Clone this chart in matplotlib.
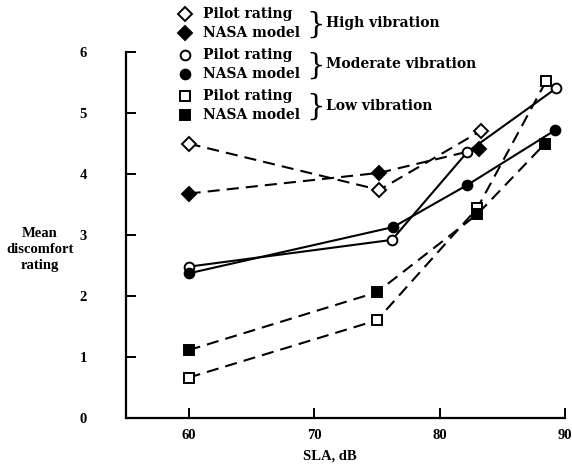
import matplotlib
matplotlib.use("Agg")
import matplotlib.pyplot as plt

plt.rcParams['font.family'] = ['Liberation Serif', 'DejaVu Serif']
plt.rcParams['font.weight'] = 'bold'

# Data
high_pilot_x = [60, 75.2, 83.3]
high_pilot_y = [4.50, 3.74, 4.71]
high_nasa_x = [60, 75.2, 83.1]
high_nasa_y = [3.68, 4.02, 4.41]

mod_pilot_x = [60, 76.2, 82.2, 89.3]
mod_pilot_y = [2.48, 2.92, 4.36, 5.41]
mod_nasa_x = [60, 76.3, 82.2, 89.2]
mod_nasa_y = [2.37, 3.13, 3.82, 4.72]

low_pilot_x = [60, 75.0, 83.0, 88.5]
low_pilot_y = [0.66, 1.60, 3.44, 5.53]
low_nasa_x = [60, 75.0, 83.0, 88.4]
low_nasa_y = [1.11, 2.06, 3.34, 4.50]

x_ticks = [60, 70, 80, 90]
y_ticks = [0, 1, 2, 3, 4, 5, 6]

legend_rows = [("D", "none", "Pilot rating"), ("D", "k", "NASA model"),
               ("o", "none", "Pilot rating"), ("o", "k", "NASA model"),
               ("s", "none", "Pilot rating"), ("s", "k", "NASA model")]
group_labels = ["High vibration", "Moderate vibration", "Low vibration"]

fig = plt.figure(figsize=(5.72, 4.70), dpi=100)
ax = fig.add_axes([0.220, 0.111, 0.768, 0.778])

dash = (0, (5.8, 3.4))
ms = 7
def msize(m):
    return ms + 0.5 if m == 'D' else ms

def series(x, y, m, fill, ls):
    ax.plot(x, y, color='k', lw=1.5, linestyle=ls, marker=m,
            markersize=msize(m), markerfacecolor=('white' if fill == 'none' else 'k'),
            markeredgecolor='k', markeredgewidth=1.4, clip_on=False, zorder=3)

series(high_pilot_x, high_pilot_y, 'D', 'none', dash)
series(high_nasa_x, high_nasa_y, 'D', 'k', dash)
series(mod_pilot_x, mod_pilot_y, 'o', 'none', '-')
series(mod_nasa_x, mod_nasa_y, 'o', 'k', '-')
series(low_pilot_x, low_pilot_y, 's', 'none', dash)
series(low_nasa_x, low_nasa_y, 's', 'k', dash)

ax.set_xlim(55, 90)
ax.set_ylim(0, 6)
ax.set_xticks(x_ticks)
ax.set_yticks(y_ticks)
ax.set_xticklabels([str(v) for v in x_ticks], family='Liberation Serif', fontsize=10.5,
                   fontweight='bold')
ax.set_yticklabels([str(v) for v in y_ticks], family='Liberation Serif', fontsize=10.5,
                   fontweight='bold')
for s in ['top', 'right']:
    ax.spines[s].set_visible(False)
for s in ['left', 'bottom']:
    ax.spines[s].set_linewidth(1.6)
ax.tick_params(direction='in', length=7, width=1.4, pad=8)
ax.tick_params(axis='y', pad=28)

fig.text(0.07, 0.47, "Mean\ndiscomfort\nrating", ha='center', va='center', fontsize=10.5,
         linespacing=1.3, family='Liberation Serif', fontweight='bold')
fig.text(0.577, 0.015, "SLA, dB", ha='center', va='bottom', fontsize=10.5,
         family='Liberation Serif', fontweight='bold')

# Legend (figure coordinates)
lax = fig.add_axes([0, 0, 1, 1], facecolor='none')
lax.set_xlim(0, 572)
lax.set_ylim(470, 0)
lax.axis('off')
row_y = [14, 33, 55, 74, 96, 115]
for (m, fill, txt), yy in zip(legend_rows, row_y):
    lax.plot([185], [yy], marker=m, markersize=msize(m),
             markerfacecolor=('white' if fill == 'none' else 'k'),
             markeredgecolor='k', markeredgewidth=1.4, linestyle='none')
    lax.text(203, yy, txt, ha='left', va='center', fontsize=10, family='DejaVu Serif')
for i, g in enumerate(group_labels):
    yc = (row_y[2 * i] + row_y[2 * i + 1]) / 2
    lax.text(306, yc + 1, "}", ha='left', va='center', fontsize=21, fontweight='light',
             family='DejaVu Serif')
    lax.text(326, yc, g, ha='left', va='center', fontsize=10, family='DejaVu Serif')

fig.savefig("out.png", dpi=100)
